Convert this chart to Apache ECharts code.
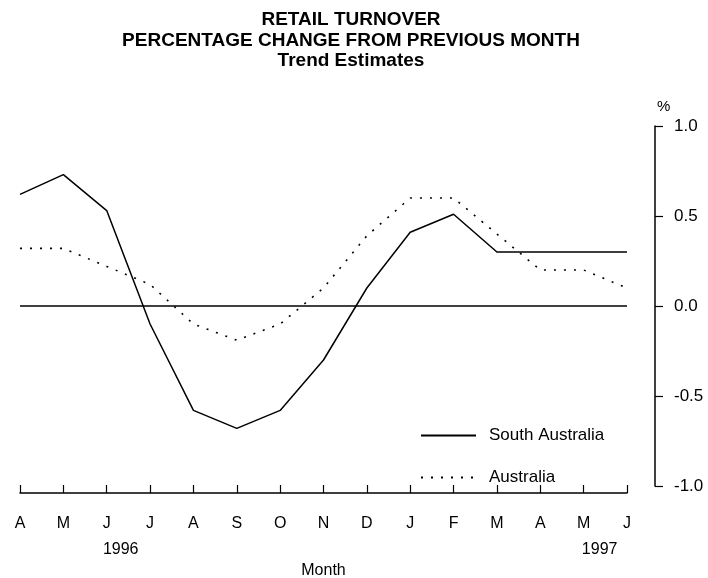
<!DOCTYPE html>
<html>
  <head>
    <meta charset="utf-8">
    <title>Retail Turnover</title>
    <style>
      html, body { margin: 0; padding: 0; background: #fff; }
      #chart { width: 708px; height: 578px; }
    </style>
  </head>
  <body>
    <div id="chart"></div>
    <script src="https://cdn.jsdelivr.net/npm/echarts@6/dist/echarts.min.js"></script>
    <script>
      // Data (Apr 1996 - Jun 1997)
      var months = ['A', 'M', 'J', 'J', 'A', 'S', 'O', 'N', 'D', 'J', 'F', 'M', 'A', 'M', 'J'];
      var southAustralia = [0.62, 0.73, 0.53, -0.1, -0.58, -0.68, -0.58, -0.3, 0.1, 0.41, 0.51, 0.3, 0.3, 0.3, 0.3];
      var australia = [0.32, 0.32, 0.22, 0.12, -0.1, -0.19, -0.1, 0.1, 0.39, 0.6, 0.6, 0.4, 0.2, 0.2, 0.1];
      var yTicks = [-1, -0.5, 0, 0.5, 1];

      var FONT = 'Liberation Sans';
      var chart = echarts.init(document.getElementById('chart'));

      chart.setOption({
        animation: false,
        backgroundColor: '#fff',
        title: {
          text: 'RETAIL TURNOVER\nPERCENTAGE CHANGE FROM PREVIOUS MONTH\nTrend Estimates',
          left: 346,
          textAlign: 'center',
          top: 5,
          textStyle: {
            fontFamily: FONT,
            fontSize: 19,
            fontWeight: 'bold',
            lineHeight: 20.5,
            color: '#000'
          }
        },
        legend: {
          orient: 'vertical',
          left: 415,
          top: 422,
          itemWidth: 55,
          itemHeight: 14,
          itemGap: 25,
          selectedMode: false,
          itemStyle: { opacity: 0 },
          textStyle: {
            fontFamily: FONT,
            fontSize: 17,
            color: '#000',
            padding: [0, 0, 0, 8]
          },
          data: ['South Australia', 'Australia']
        },
        grid: {
          left: 20,
          right: 81,
          top: 126,
          bottom: 92,
          containLabel: false,
          outerBoundsMode: 'none'
        },
        xAxis: {
          type: 'category',
          data: months,
          boundaryGap: false,
          offset: 7,
          name: 'Month',
          nameLocation: 'middle',
          nameGap: 70,
          nameMoveOverlap: false,
          nameTextStyle: { fontFamily: FONT, fontSize: 16, color: '#000' },
          axisLine: { onZero: false, lineStyle: { color: '#000', width: 1.5 } },
          axisTick: { inside: true, length: 8, lineStyle: { color: '#000', width: 1.2 } },
          axisLabel: {
            margin: 18,
            fontFamily: FONT,
            fontSize: 16,
            color: '#000',
            lineHeight: 26,
            interval: 0,
            formatter: function (v, i) {
              if (i === 2) return v + '\n{y1|1996}';
              if (i === 13) return v + '\n{y2|1997}';
              return v;
            },
            rich: {
              y1: { fontFamily: FONT, fontSize: 16, color: '#000', lineHeight: 26, padding: [0, 0, 0, 28] },
              y2: { fontFamily: FONT, fontSize: 16, color: '#000', lineHeight: 26, padding: [0, 0, 0, 32] }
            }
          },
          splitLine: { show: false }
        },
        yAxis: {
          type: 'value',
          position: 'right',
          offset: 28,
          min: yTicks[0],
          max: yTicks[yTicks.length - 1],
          interval: 0.5,
          name: '%',
          nameLocation: 'end',
          nameGap: 12,
          nameTextStyle: { fontFamily: FONT, fontSize: 15, color: '#000', align: 'left', padding: [0, 0, 0, 2] },
          axisLine: { show: true, lineStyle: { color: '#000', width: 1.5 } },
          axisTick: { show: true, length: 8, lineStyle: { color: '#000', width: 1.2 } },
          axisLabel: {
            margin: 19,
            fontFamily: FONT,
            fontSize: 17,
            color: '#000',
            formatter: function (v) { return v.toFixed(1); }
          },
          splitLine: { show: false }
        },
        series: [
          {
            name: 'South Australia',
            type: 'line',
            data: southAustralia,
            symbol: 'none',
            lineStyle: { color: '#000', width: 1.5, type: 'solid' },
            itemStyle: { color: '#000' },
            markLine: {
              silent: true,
              symbol: 'none',
              label: { show: false },
              lineStyle: { color: '#000', width: 1.5, type: 'solid' },
              data: [{ yAxis: 0 }]
            }
          },
          {
            name: 'Australia',
            type: 'line',
            data: australia,
            symbol: 'none',
            lineStyle: { color: '#000', width: 1.6, type: [2, 8] },
            itemStyle: { color: '#000' }
          }
        ]
      });
    </script>
  </body>
</html>
